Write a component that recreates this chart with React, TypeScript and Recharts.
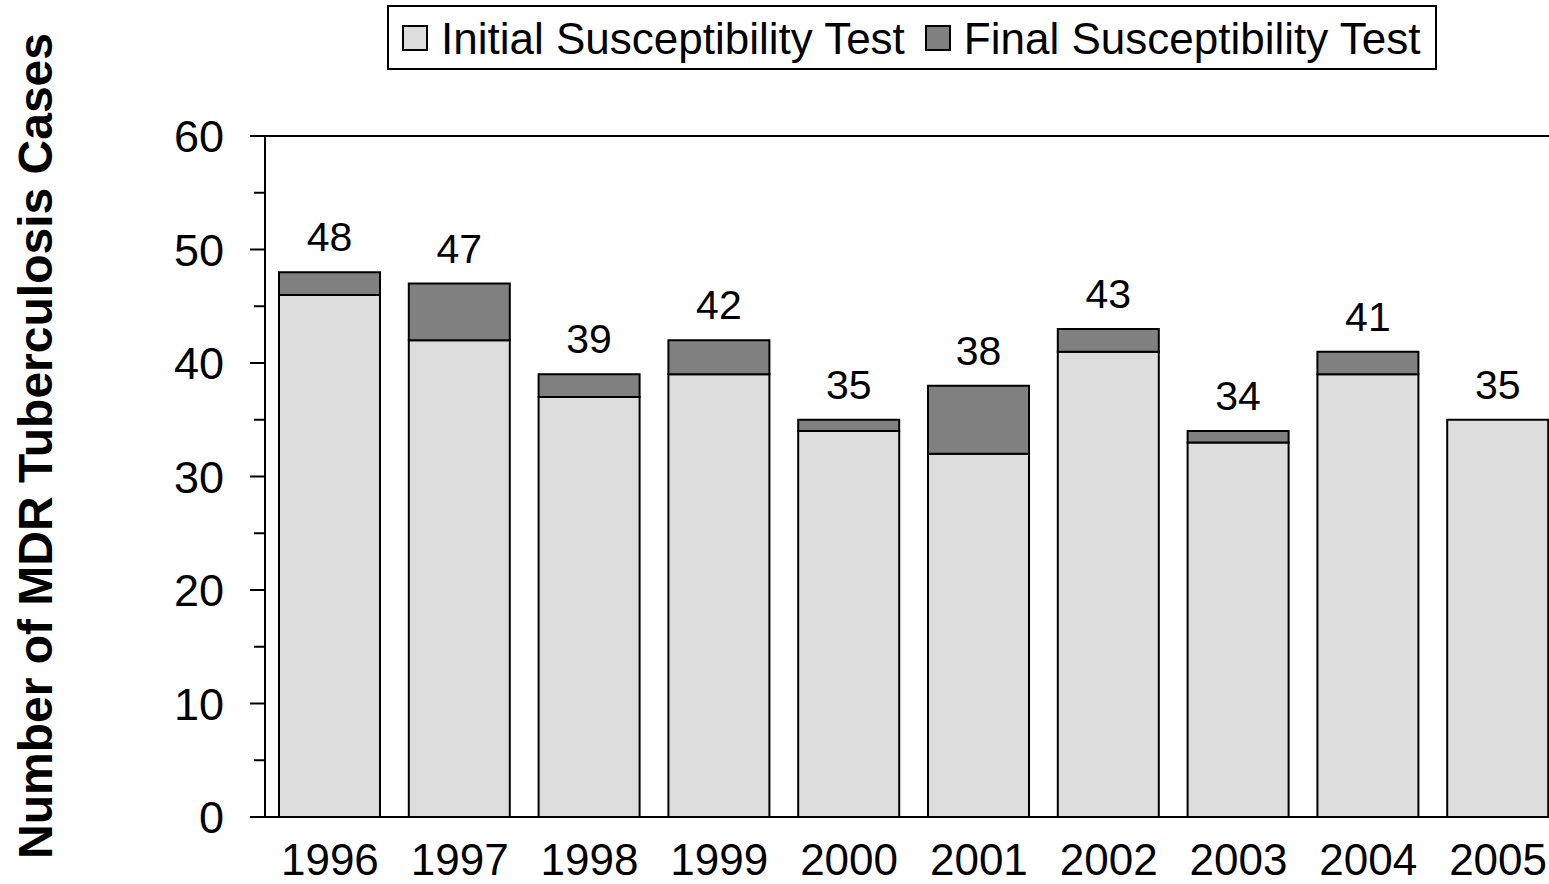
import React from 'react';
import { BarChart, Bar, XAxis, YAxis, LabelList, Legend, ReferenceLine } from 'recharts';

const years = ['1996', '1997', '1998', '1999', '2000', '2001', '2002', '2003', '2004', '2005'];
const initialTest = [46, 42, 37, 39, 34, 32, 41, 33, 39, 35];
const finalTest = [2, 5, 2, 3, 1, 6, 2, 1, 2, 0];
const yTicks = [0, 5, 10, 15, 20, 25, 30, 35, 40, 45, 50, 55, 60];
const seriesNames = ['Initial Susceptibility Test', 'Final Susceptibility Test'];
const seriesColors = ['#DDDDDD', '#808080'];

const data = years.map((y, i) => ({
  year: y,
  initial: initialTest[i],
  final: finalTest[i],
  total: initialTest[i] + finalTest[i],
}));

const FONT = '"Liberation Sans", Arial, sans-serif';

const YTick = (props: any) => {
  const { x, y, payload } = props;
  const major = payload.value % 10 === 0;
  return (
    <g>
      <line x1={x - (major ? 15 : 11)} x2={x} y1={y} y2={y} stroke="#000" strokeWidth={2} />
      {major && (
        <text x={x - 41} y={y} dy={16} textAnchor="end" fontSize={45} fontFamily={FONT} fill="#000">
          {payload.value}
        </text>
      )}
    </g>
  );
};

const TotalLabel = (props: any) => {
  const { x, y, width, height, index } = props;
  const d = data[index];
  if (!d) return null;
  const perUnit = d.initial ? height / d.initial : 0;
  const top = y - d.final * perUnit;
  return (
    <text x={x + width / 2} y={top - 21} textAnchor="middle" fontSize={41} fontFamily={FONT} fill="#000">
      {d.total}
    </text>
  );
};

const LegendBox = () => (
  <div
    style={{
      boxSizing: 'border-box',
      width: 1050,
      height: 65,
      border: '2px solid #000',
      background: '#fff',
      display: 'flex',
      alignItems: 'center',
      paddingLeft: 13,
      fontFamily: FONT,
      fontSize: 44,
      color: '#000',
      whiteSpace: 'nowrap',
    }}
  >
    {seriesNames.map((n, i) => (
      <div key={n} style={{ display: 'flex', alignItems: 'center', marginRight: 20 }}>
        <div
          style={{
            boxSizing: 'border-box',
            width: 26,
            height: 26,
            background: seriesColors[i],
            border: '2px solid #000',
            marginRight: 13,
          }}
        />
        <span style={{ lineHeight: '1', position: 'relative', top: 1 }}>{n}</span>
      </div>
    ))}
  </div>
);

const YLabel = () => (
  <text
    x={52}
    y={446}
    transform="rotate(-90 52 446)"
    textAnchor="middle"
    fontSize={48}
    fontWeight="bold"
    fontFamily={FONT}
    fill="#000"
  >
    Number of MDR Tuberculosis Cases
  </text>
);

export default function App() {
  return (
    <div style={{ position: 'absolute', left: 0, top: 0, width: 1549, height: 884, overflow: 'hidden', background: '#fff' }}>
      <BarChart
        width={1573}
        height={884}
        data={data}
        margin={{ top: 136, right: 10, bottom: 0, left: 0 }}
      >
        <XAxis
          dataKey="year"
          height={67}
          axisLine={{ stroke: '#000', strokeWidth: 2 }}
          tickLine={false}
          tickSize={0}
          tickMargin={27}
          tick={{ fontSize: 44, fill: '#000', fontFamily: FONT }}
          interval={0}
        />
        <YAxis
          width={265}
          domain={[0, 60]}
          ticks={yTicks}
          interval={0}
          axisLine={{ stroke: '#000', strokeWidth: 2 }}
          tickLine={false}
          tickSize={0}
          tickMargin={0}
          tick={<YTick />}
          label={{ content: () => <YLabel /> }}
        />
        <ReferenceLine y={60} stroke="#000" strokeWidth={2} />
        <Legend
          layout="vertical"
          verticalAlign="middle"
          align="center"
          content={() => <LegendBox />}
          wrapperStyle={{ position: 'absolute', left: 387, top: 5, width: 1050, height: 65 }}
        />
        <Bar
          dataKey="initial"
          stackId="a"
          barSize={101}
          fill={seriesColors[0]}
          stroke="#000"
          strokeWidth={2}
          isAnimationActive={false}
          name={seriesNames[0]}
        >
          <LabelList dataKey="total" content={<TotalLabel />} />
        </Bar>
        <Bar
          dataKey="final"
          stackId="a"
          barSize={101}
          fill={seriesColors[1]}
          stroke="#000"
          strokeWidth={2}
          isAnimationActive={false}
          name={seriesNames[1]}
        />
      </BarChart>
    </div>
  );
}
